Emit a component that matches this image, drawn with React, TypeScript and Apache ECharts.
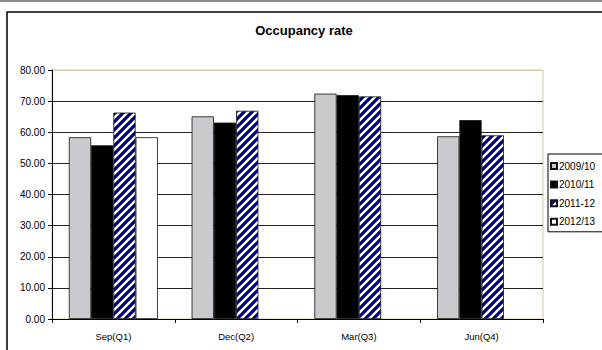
import React, { useEffect, useRef } from "react";
import * as echarts from "echarts";

const categories = ["Sep(Q1)", "Dec(Q2)", "Mar(Q3)", "Jun(Q4)"];
const seriesNames = ["2009/10", "2010/11", "2011-12", "2012/13"];
const values2009 = [58.4, 65.1, 72.4, 58.7];
const values2010 = [55.8, 63.1, 71.9, 63.9];
const values2011 = [66.3, 66.9, 71.5, 59.0];
const values2012 = [58.4, null, null, null];
const yTicks = [0, 10, 20, 30, 40, 50, 60, 70, 80];

// navy fill with white diagonal stripes
function makeHatch(): HTMLCanvasElement {
  const c = document.createElement("canvas");
  c.width = 8;
  c.height = 8;
  const ctx = c.getContext("2d")!;
  ctx.fillStyle = "#000080";
  ctx.fillRect(0, 0, 8, 8);
  ctx.strokeStyle = "#ffffff";
  ctx.lineWidth = 2.4;
  ctx.beginPath();
  for (let k = -8; k <= 16; k += 8) {
    ctx.moveTo(k - 2, 10);
    ctx.lineTo(k + 10, -2);
  }
  ctx.stroke();
  return c;
}

export default function App() {
  const ref = useRef<HTMLDivElement>(null);

  useEffect(() => {
    if (!ref.current) return;
    const chart = echarts.init(ref.current, null, { renderer: "svg" });
    const hatch = { image: makeHatch(), repeat: "repeat" } as any;
    const font = "'Liberation Sans', Arial, sans-serif";
    const fills = ["#c8cacd", "#000000", hatch, "#ffffff"];
    const data = [values2009, values2010, values2011, values2012];
    const gridColors = yTicks.map((t, i) => (i === yTicks.length - 1 ? "#d6caa0" : "#222222"));

    chart.setOption({
      animation: false,
      backgroundColor: "#ffffff",
      textStyle: { fontFamily: font },
      graphic: [
        {
          type: "line",
          shape: { x1: 0, y1: 1, x2: 602, y2: 1 },
          style: { stroke: "#8c8c8c", lineWidth: 2 },
        },
        {
          type: "rect",
          shape: { x: 7, y: 12, width: 620, height: 360 },
          style: { fill: "none", stroke: "#000000", lineWidth: 1.5 },
        },
        {
          type: "text",
          x: 304,
          y: 30,
          style: {
            text: "Occupancy rate",
            font: `bold 13px ${font}`,
            fill: "#000000",
            textAlign: "center",
            textVerticalAlign: "middle",
          },
        },
      ],
      legend: {
        orient: "vertical",
        left: 548,
        top: 154,
        padding: [7, 20, 5, 2],
        itemGap: 8.6,
        itemWidth: 6,
        itemHeight: 6,
        icon: "rect",
        borderColor: "#000000",
        borderWidth: 1,
        borderRadius: 0,
        backgroundColor: "#ffffff",
        textStyle: { fontSize: 10, color: "#000000", fontFamily: font, padding: [0, 0, 0, -3] },
        data: seriesNames,
      },
      grid: {
        left: 52,
        right: 59,
        top: 70,
        bottom: 31,
        show: true,
        borderColor: "#d6caa0",
        borderWidth: 1,
        backgroundColor: "transparent",
      },
      xAxis: {
        type: "category",
        data: categories,
        axisLine: { show: true, lineStyle: { color: "#000000", width: 1 } },
        axisTick: { show: true, inside: false, length: 4, lineStyle: { color: "#000000" } },
        axisLabel: { color: "#000000", fontSize: 9.5, fontFamily: font, margin: 12 },
      },
      yAxis: {
        type: "value",
        min: 0,
        max: 80,
        interval: 10,
        axisLine: { show: true, lineStyle: { color: "#000000", width: 1 } },
        axisTick: { show: true, inside: false, length: 4, lineStyle: { color: "#000000" } },
        axisLabel: {
          color: "#000000",
          fontSize: 10,
          fontFamily: font,
          margin: 7,
          formatter: (v: number) => v.toFixed(2),
        },
        splitLine: { show: true, lineStyle: { color: gridColors, width: 1 } },
      },
      series: seriesNames.map((name, i) => ({
        name,
        type: "bar",
        data: data[i],
        barGap: "0%",
        barCategoryGap: "27.5%",
        itemStyle: {
          color: fills[i],
          borderColor: "#111111",
          borderWidth: 0.8,
        },
      })),
    });

    return () => chart.dispose();
  }, []);

  return (
    <div
      ref={ref}
      style={{ position: "fixed", left: 0, top: 0, width: 602, height: 350 }}
    />
  );
}
